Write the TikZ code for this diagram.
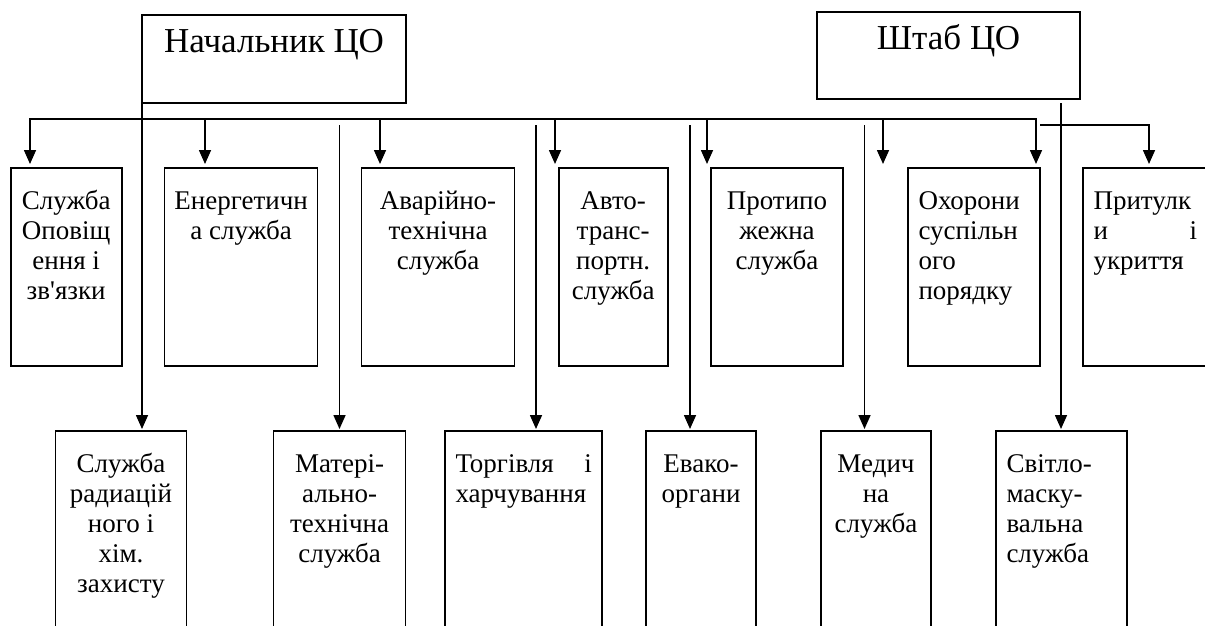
\documentclass[tikz,border=0pt]{standalone}
\usepackage{fontspec}
\setmainfont{Liberation Serif}
\usetikzlibrary{arrows.meta}
\newcommand\cbox[3]{\parbox[t][#1][t]{#2}{\vspace*{20.5pt}\centering\strut #3}}
\newcommand\lbox[4]{\parbox[t][#1][t]{#2}{\vspace*{20.5pt}\raggedright\leftskip=10.5pt\rightskip=#3 plus 1fil\strut #4}}
\newcommand\tbox[3]{\parbox[t][#1][t]{#2}{\vspace*{9pt}\centering\strut #3}}
\tikzset{
  ln/.style={line width=1.6pt},
  arr/.style={-{Triangle[length=14pt,width=12pt]}},
  bx/.style={draw, line width=1.6pt, inner sep=0pt, outer sep=0pt, anchor=north west, font=\fontsize{27}{30}\selectfont},
  ttl/.style={bx, font=\fontsize{35}{40}\selectfont}
}
\begin{document}
\begin{tikzpicture}[x=1pt,y=-1pt]
\useasboundingbox (0,0) rectangle (1205,625);
\fill[white] (0,0) rectangle (1205,625);
\clip (0,0) rectangle (1205,625);
% title boxes
\node[ttl] (nach) at (142,15) {\tbox{88pt}{264pt}{Начальник ЦО}};
\node[ttl] (shtab) at (817,12) {\tbox{87pt}{263pt}{Штаб ЦО}};
% top row
\node[bx] (b1) at (10.7,168) {\cbox{198pt}{111pt}{Служба\\Оповіщ\\ення і\\зв\textquotesingle язки}};
\node[bx] (b2) at (164.6,168) {\cbox{198pt}{153pt}{Енергетичн\\а служба}};
\node[bx] (b3) at (361.6,168) {\cbox{198pt}{153pt}{Аварійно-\\технічна\\служба}};
\node[bx] (b4) at (558.7,168) {\cbox{198pt}{109pt}{Авто-\\транс-\\портн.\\служба}};
\node[bx] (b5) at (711,168) {\cbox{198pt}{132pt}{Протипо\\жежна\\служба}};
\node[bx] (b6) at (908,168) {\lbox{198pt}{132pt}{8pt}{Охорони\\суспільн\\ого\\порядку}};
\node[bx] (b7) at (1083,168) {\lbox{198pt}{132pt}{18pt}{Притулк\\и\hfill і\\укриття}};
% bottom row
\node[bx] (d1) at (55.5,431) {\cbox{210pt}{131pt}{Служба\\радиацій\\ного і\\хім.\\захисту}};
\node[bx] (d2) at (273.6,431) {\cbox{210pt}{132pt}{Матері-\\ально-\\технічна\\служба}};
\node[bx] (d3) at (445,431) {\lbox{210pt}{157pt}{10pt}{Торгівля\hfill і\\харчування}};
\node[bx] (d4) at (646,431) {\cbox{210pt}{110pt}{Евако-\\органи}};
\node[bx] (d5) at (821,431) {\cbox{210pt}{110pt}{Медич\\на\\служба}};
\node[bx] (d6) at (996,431) {\lbox{210pt}{131pt}{8pt}{Світло-\\маску-\\вальна\\служба}};
% bus coordinates
\coordinate (busL) at (30,119);
\coordinate (busR) at (1036,119);
\coordinate (t2) at (205,119);
\coordinate (t3) at (380,119);
\coordinate (t4) at (555,119);
\coordinate (t5) at (707,119);
\coordinate (t6) at (883,119);
\coordinate (s1) at (1040,125);
\coordinate (s2) at (1149,125);
\coordinate (g2) at (339.5,125);
\coordinate (g3) at (536,125);
\coordinate (g4) at (690,125);
\coordinate (g5) at (864.5,125);
\coordinate (sh) at (1061,103);
% connectors
\draw[ln,{Triangle[length=14pt,width=12pt]}-{Triangle[length=14pt,width=12pt]}, shorten <=4pt, shorten >=4pt]
  (busL |- b1.north) -- (busL) -- (busR) -- (busR |- b6.north);
\foreach \c/\b in {t2/b2,t3/b3,t4/b4,t5/b5,t6/b6}
  \draw[ln,arr,shorten >=4pt] (\c) -- (\c |- \b.north);
\draw[ln,arr,shorten >=4pt] (s1) -- (s2) -- (s2 |- b7.north);
\draw[ln,arr,shorten >=2pt] (nach.south west) -- (nach.south west |- d1.north);
\foreach \c/\b in {g2/d2,g3/d3,g4/d4,g5/d5,sh/d6}
  \draw[ln,arr,shorten >=2pt] (\c) -- (\c |- \b.north);
\end{tikzpicture}
\end{document}
